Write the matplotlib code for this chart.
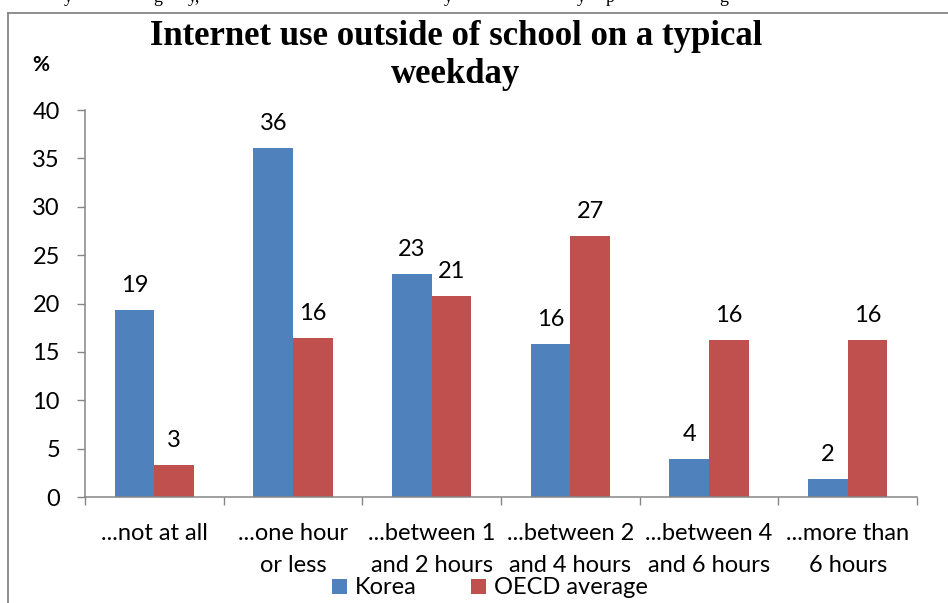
import matplotlib
matplotlib.use("Agg")
import matplotlib.pyplot as plt
from matplotlib.lines import Line2D
import numpy as np

categories = ["...not at all", "...one hour\nor less", "...between 1\nand 2 hours",
              "...between 2\nand 4 hours", "...between 4\nand 6 hours", "...more than\n6 hours"]
korea = [19.3, 36.1, 23.0, 15.8, 3.9, 1.9]
oecd = [3.3, 16.4, 20.8, 27.0, 16.2, 16.2]
series_names = ["Korea", "OECD average"]
title = "Internet use outside of school on a typical\nweekday"
yticks = [0, 5, 10, 15, 20, 25, 30, 35, 40]
# glyph fragments of the document line cut off above the chart
top_glyphs = ["y", "g", "y,", "y", "y", "p", "g"]
top_glyph_x = [64, 153, 188, 444, 577, 606, 719]

W, H = 948, 603
SANS = ["Lato", "DejaVu Sans"]
SERIF = ["Liberation Serif", "DejaVu Serif"]
C_KOR = "#4F81BD"
C_OECD = "#C0504D"
GRAY = "#868686"

fig = plt.figure(figsize=(W / 100, H / 100), dpi=100)
fig.patch.set_facecolor("white")

ax = fig.add_axes([85 / W, 1 - 497 / H, (917 - 85) / W, (497 - 110) / H])
x = np.arange(len(categories))
bw = 0.285
b1 = ax.bar(x - bw / 2, korea, bw, color=C_KOR, label=series_names[0], linewidth=0)
b2 = ax.bar(x + bw / 2, oecd, bw, color=C_OECD, label=series_names[1], linewidth=0)

for bars, vals in ((b1, korea), (b2, oecd)):
    for r, v in zip(bars, vals):
        ax.annotate(f"{int(round(v))}", (r.get_x() + r.get_width() / 2, v),
                    xytext=(0, 13), textcoords="offset points",
                    ha="center", va="baseline", fontsize=17, family=SANS, color="black")

ax.set_xlim(-0.5, len(categories) - 0.5)
ax.set_ylim(0, 40)
ax.set_yticks(yticks)
ax.set_yticklabels([str(t) for t in yticks], family=SANS, fontsize=17)
ax.tick_params(axis="y", length=6, width=1, color=GRAY, pad=12)

ax.set_xticks(x)
ax.set_xticklabels(categories, family=SANS, fontsize=17, linespacing=1.6)
ax.set_xticks(np.arange(-0.5, len(categories)), minor=True)
ax.tick_params(axis="x", which="major", length=0, pad=19)
ax.tick_params(axis="x", which="minor", length=6, width=1, color=GRAY)

for s in ("top", "right"):
    ax.spines[s].set_visible(False)
for s in ("left", "bottom"):
    ax.spines[s].set_color(GRAY)
    ax.spines[s].set_linewidth(1.1)

fig.text(456 / W, 1 - 83 / H, title, ha="center", va="baseline", family=SERIF,
         fontweight="bold", fontsize=25, linespacing=1.19, multialignment="center")
fig.text(41 / W, 1 - 65 / H, "%", ha="center", va="center", family=SANS,
         fontweight="bold", fontsize=15)

for g, gx in zip(top_glyphs, top_glyph_x):
    fig.text(gx / W, 1 - 2 / H, g, ha="left", va="baseline", family=SERIF,
             fontsize=13, color="black")

fig.legend(handles=[b1, b2], labels=series_names, loc="center",
           bbox_to_anchor=(490 / W, 1 - 588 / H), ncol=2, frameon=False,
           prop={"family": SANS, "size": 17}, handlelength=0.65, handleheight=0.6,
           handletextpad=0.34, columnspacing=2.3, borderpad=0, borderaxespad=0)

# outer chart border (partially visible)
fig.add_artist(Line2D([8 / W, 8 / W], [0, 1 - 13 / H], transform=fig.transFigure,
                      color=GRAY, lw=1.3))
fig.add_artist(Line2D([8 / W, 1], [1 - 13 / H, 1 - 13 / H], transform=fig.transFigure,
                      color=GRAY, lw=1.3))

fig.savefig("out.png", dpi=100, facecolor="white")
